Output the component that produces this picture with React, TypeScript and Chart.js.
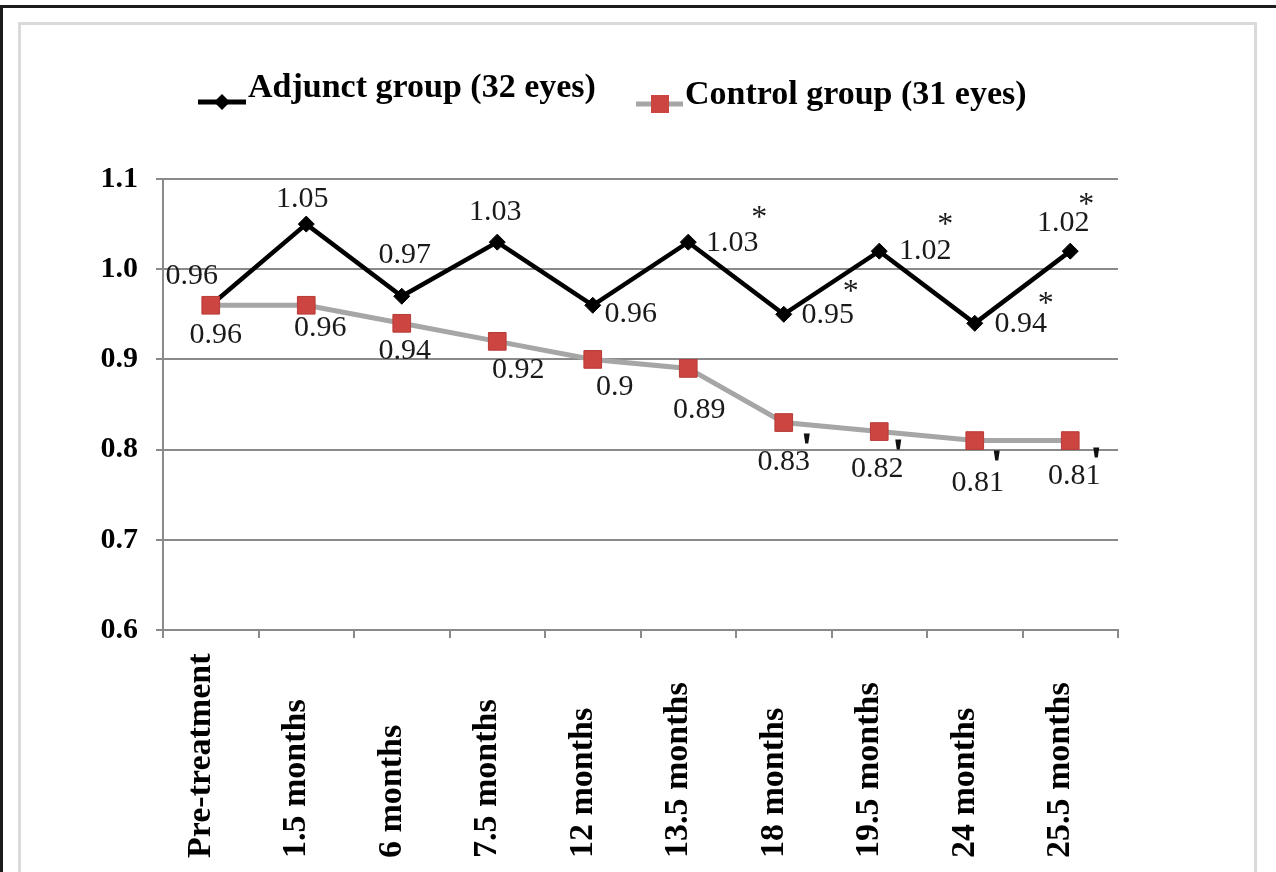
import { useEffect, useRef } from "react";
import { Chart, registerables } from "chart.js";

Chart.register(...registerables);

// Follow-up time points
const categories = [
  "Pre-treatment",
  "1.5 months",
  "6 months",
  "7.5 months",
  "12 months",
  "13.5 months",
  "18 months",
  "19.5 months",
  "24 months",
  "25.5 months",
];

// Mean values per group
const adjunctValues = [0.96, 1.05, 0.97, 1.03, 0.96, 1.03, 0.95, 1.02, 0.94, 1.02];
const controlValues = [0.96, 0.96, 0.94, 0.92, 0.9, 0.89, 0.83, 0.82, 0.81, 0.81];

const adjunctName = "Adjunct group (32 eyes)";
const controlName = "Control group (31 eyes)";

const yTickValues = [0.6, 0.7, 0.8, 0.9, 1.0, 1.1];

// Significance flags
const adjunctStarred = [false, false, false, false, false, true, true, true, true, true];
const controlFlagged = [false, false, false, false, false, false, true, true, true, true];

// Label placement relative to each point (px)
const adjunctLabelOffsets = [
  [-19, -29], [-4, -25], [3, -41], [-2, -30], [38, 9],
  [44, 1], [44, 1], [46, 0], [46, 1], [-7, -28],
];
const controlLabelOffsets = [
  [5, 30], [14, 23], [3, 28], [21, 29], [22, 28],
  [11, 42], [0, 40], [-2, 38], [3, 43], [4, 36],
];
const starOffsets = [
  [0, 0], [0, 0], [0, 0], [0, 0], [0, 0],
  [71, -30], [67, -28], [66, -32], [71, -25], [16, -52],
];
const flagOffsets = [
  [0, 0], [0, 0], [0, 0], [0, 0], [0, 0],
  [0, 0], [23, 16], [19, 13], [22, 15], [26, 12],
];

const SERIF = "'Liberation Serif', 'Times New Roman', serif";
const GRID = "#8a8a8a";
const CONTROL_LINE = "#a6a6a6";
const CONTROL_FILL = "#cc4540";
const CONTROL_EDGE = "#b73b37";

const annotations = {
  id: "annotations",
  afterDatasetsDraw(chart: any) {
    const { ctx } = chart;
    const xs = chart.scales.x;
    const ys = chart.scales.y;
    ctx.save();

    // value labels
    ctx.font = `30px ${SERIF}`;
    ctx.fillStyle = "#1a1a1a";
    ctx.textAlign = "center";
    ctx.textBaseline = "middle";
    adjunctValues.forEach((v, i) => {
      const x = xs.getPixelForValue(i);
      const y = ys.getPixelForValue(v);
      const [dx, dy] = adjunctLabelOffsets[i];
      ctx.fillText(String(v), x + dx, y + dy);
    });
    controlValues.forEach((v, i) => {
      const x = xs.getPixelForValue(i);
      const y = ys.getPixelForValue(v);
      const [dx, dy] = controlLabelOffsets[i];
      ctx.fillText(String(v), x + dx, y + dy);
    });

    // asterisks
    ctx.font = `32px ${SERIF}`;
    ctx.textBaseline = "alphabetic";
    adjunctValues.forEach((v, i) => {
      if (!adjunctStarred[i]) return;
      const x = xs.getPixelForValue(i);
      const y = ys.getPixelForValue(v);
      const [dx, dy] = starOffsets[i];
      ctx.fillText("*", x + dx, y + dy + 15);
    });

    // small wedge marks
    ctx.fillStyle = "#111";
    controlValues.forEach((v, i) => {
      if (!controlFlagged[i]) return;
      const x = xs.getPixelForValue(i) + flagOffsets[i][0];
      const y = ys.getPixelForValue(v) + flagOffsets[i][1];
      ctx.beginPath();
      ctx.moveTo(x - 3, y - 5);
      ctx.lineTo(x + 3, y - 5);
      ctx.lineTo(x + 1.5, y + 5);
      ctx.lineTo(x - 1.5, y + 5);
      ctx.closePath();
      ctx.fill();
    });
    ctx.restore();
  },
  afterDraw(chart: any) {
    const { ctx } = chart;
    const xs = chart.scales.x;
    ctx.save();

    // rotated category labels, anchored at the bottom
    ctx.font = `bold 34px ${SERIF}`;
    ctx.fillStyle = "#000";
    ctx.textAlign = "left";
    ctx.textBaseline = "middle";
    categories.forEach((c, i) => {
      const x = xs.getPixelForValue(i) - 10;
      ctx.save();
      ctx.translate(x, 858);
      ctx.rotate(-Math.PI / 2);
      ctx.fillText(c, 0, 0);
      ctx.restore();
    });

    // legend
    const [controlDs, adjunctDs] = chart.data.datasets;
    ctx.lineCap = "butt";
    // adjunct entry
    ctx.strokeStyle = adjunctDs.borderColor;
    ctx.lineWidth = 5;
    ctx.beginPath();
    ctx.moveTo(198, 102);
    ctx.lineTo(246, 102);
    ctx.stroke();
    ctx.fillStyle = adjunctDs.pointBackgroundColor;
    ctx.beginPath();
    ctx.moveTo(222, 94);
    ctx.lineTo(230, 102);
    ctx.lineTo(222, 110);
    ctx.lineTo(214, 102);
    ctx.closePath();
    ctx.fill();
    ctx.font = `bold 34px ${SERIF}`;
    ctx.textBaseline = "alphabetic";
    ctx.fillStyle = "#000";
    ctx.fillText(adjunctDs.label, 248, 97);

    // control entry
    ctx.strokeStyle = controlDs.borderColor;
    ctx.lineWidth = 5;
    ctx.beginPath();
    ctx.moveTo(636, 104);
    ctx.lineTo(683, 104);
    ctx.stroke();
    ctx.fillStyle = controlDs.pointBackgroundColor;
    ctx.fillRect(651, 95, 18, 18);
    ctx.fillStyle = "#000";
    ctx.fillText(controlDs.label, 685, 104);
    ctx.restore();
  },
};

export default function App() {
  const canvasRef = useRef<HTMLCanvasElement>(null);

  useEffect(() => {
    const canvas = canvasRef.current;
    if (!canvas) return;
    const chart = new Chart(canvas, {
      type: "line",
      data: {
        labels: categories,
        datasets: [
          {
            label: controlName,
            data: controlValues,
            borderColor: CONTROL_LINE,
            borderWidth: 5,
            pointStyle: "rect",
            pointRadius: 12.5,
            pointHoverRadius: 12.5,
            pointBackgroundColor: CONTROL_FILL,
            pointBorderColor: CONTROL_EDGE,
            pointBorderWidth: 1,
            tension: 0,
            order: 0,
          },
          {
            label: adjunctName,
            data: adjunctValues,
            borderColor: "#000000",
            borderWidth: 4.5,
            pointStyle: "rectRot",
            pointRadius: 8,
            pointHoverRadius: 8,
            pointBackgroundColor: "#000000",
            pointBorderColor: "#000000",
            pointBorderWidth: 1,
            tension: 0,
            order: 1,
          },
        ],
      },
      options: {
        responsive: false,
        animation: false,
        events: [],
        layout: { padding: { left: 101, right: 158, top: 179, bottom: 232 } },
        plugins: {
          legend: { display: false },
          tooltip: { enabled: false },
        },
        scales: {
          x: {
            offset: true,
            grid: {
              offset: true,
              drawOnChartArea: false,
              drawTicks: true,
              tickLength: 8,
              color: GRID,
              lineWidth: 2,
            },
            border: { color: GRID, width: 2 },
            ticks: { display: false },
            afterFit: (s: any) => {
              s.height = 10;
            },
          },
          y: {
            min: 0.6,
            max: 1.1,
            afterBuildTicks: (s: any) => {
              s.ticks = yTickValues.map((value) => ({ value }));
            },
            ticks: {
              callback: (v: any) => Number(v).toFixed(1),
              font: { family: SERIF, size: 30, weight: "bold" },
              color: "#000",
              padding: 18,
            },
            grid: { color: GRID, lineWidth: 2, tickLength: 7 },
            border: { color: GRID, width: 2 },
            afterFit: (s: any) => {
              s.width = 62;
            },
          },
        },
      },
      plugins: [annotations],
    });
    return () => chart.destroy();
  }, []);

  return (
    <div
      style={{
        position: "absolute",
        left: 0,
        top: 0,
        width: 1276,
        height: 872,
        overflow: "hidden",
        background: "#fff",
      }}
    >
      <div style={{ position: "absolute", left: 0, top: 5, width: 1276, height: 3, background: "#1c1c1c" }} />
      <div style={{ position: "absolute", left: 0, top: 5, width: 3, height: 867, background: "#1c1c1c" }} />
      <div
        style={{
          position: "absolute",
          left: 18,
          top: 22,
          width: 1233,
          height: 900,
          border: "3px solid #dadada",
          borderBottom: "none",
        }}
      />
      <canvas ref={canvasRef} width={1276} height={872} style={{ position: "absolute", left: 0, top: 0 }} />
    </div>
  );
}
